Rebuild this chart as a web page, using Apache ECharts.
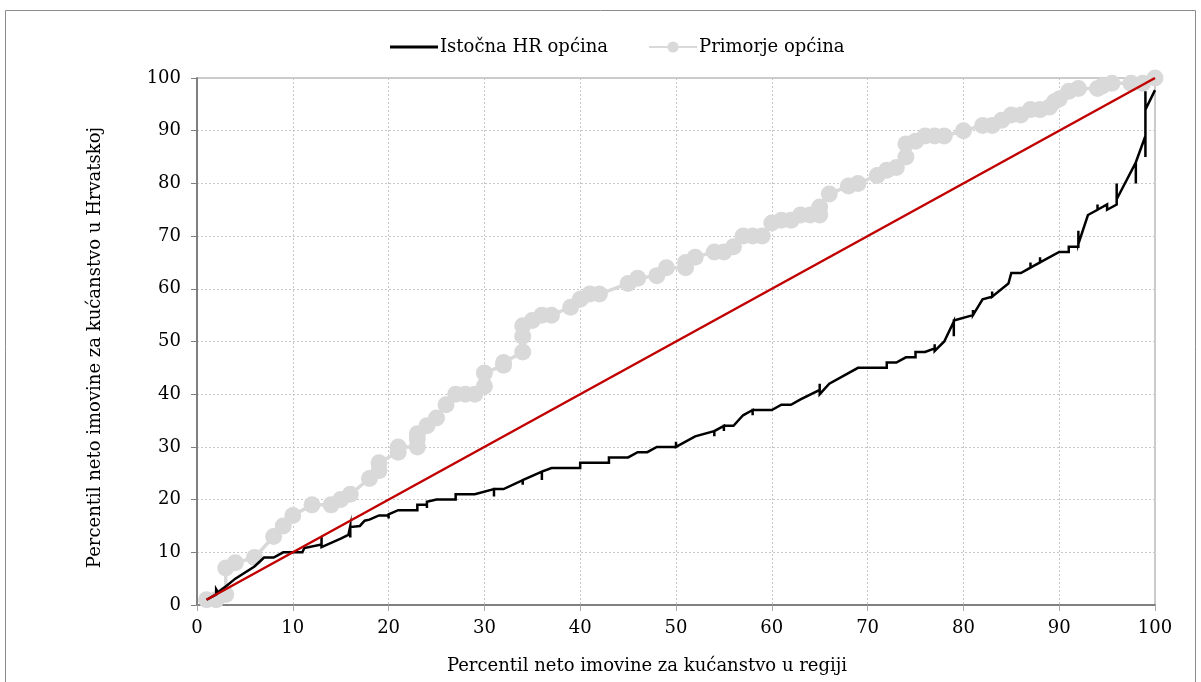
<!DOCTYPE html>
<html>
<head>
<meta charset="utf-8">
<script src="https://cdn.jsdelivr.net/npm/echarts@6/dist/echarts.min.js"></script>
<style>
  html, body { margin: 0; padding: 0; background: #fff; }
  #chart { width: 1201px; height: 682px; }
</style>
</head>
<body>
<div id="chart"></div>
<script>
// Primorje općina: [percentil u regiji, percentil u Hrvatskoj]
const primorje = [
  [1, 1], [2, 1], [3, 2], [3, 7], [4, 8], [6, 9], [8, 13], [9, 15], [10, 17], [12, 19],
  [14, 19], [15, 20], [16, 21], [18, 24], [19, 25.5], [19, 27], [21, 29], [21, 30], [23, 30], [23, 31.5],
  [23, 32.5], [24, 34], [25, 35.5], [26, 38], [27, 40], [28, 40], [29, 40], [30, 41.5], [30, 44], [32, 45.5],
  [32, 46], [34, 48], [34, 51], [34, 53], [35, 54], [36, 55], [37, 55], [39, 56.5], [40, 58], [41, 59],
  [42, 59], [45, 61], [46, 62], [48, 62.5], [49, 64], [51, 64], [51, 65], [52, 66], [54, 67], [55, 67],
  [56, 68], [57, 70], [58, 70], [59, 70], [60, 72.5], [61, 73], [62, 73], [63, 74], [64, 74], [65, 74],
  [65, 75.5], [66, 78], [68, 79.5], [69, 80], [71, 81.5], [72, 82.5], [73, 83], [74, 85], [74, 87.5], [75, 88],
  [76, 89], [77, 89], [78, 89], [80, 90], [82, 91], [83, 91], [84, 92], [85, 93], [86, 93], [87, 94],
  [88, 94], [89, 94.5], [89.5, 95.5], [90, 96], [91, 97.5], [92, 98], [94, 98], [94.5, 98.5], [95.5, 99], [97.5, 99],
  [98.7, 99], [100, 100]
]

// Istočna HR općina
const istocna = [
  [1, 1], [2, 2], [2, 3], [2.2, 2.4], [3, 3.5], [4, 5], [6, 7.3], [7, 9], [8, 9], [9, 10],
  [10, 10], [11, 10], [11, 9.8], [11.2, 10.8], [13, 11.5], [13, 13], [13, 11], [14, 11.8], [15, 12.6], [15.8, 13.3],
  [16, 15], [16, 12.8], [16, 14.8], [17, 15], [17.5, 16], [18, 16.2], [19, 17], [20, 17], [20, 16.4], [20, 17.2],
  [21, 18], [23, 18], [23, 19], [24, 19], [24, 18.4], [24, 19.6], [25, 20], [27, 20], [27, 21], [28, 21],
  [29, 21], [31, 22], [31, 20.6], [31, 22], [32, 22], [34, 23.7], [34, 22.8], [34, 23.7], [36, 25.3], [36, 23.7],
  [36, 25.3], [37, 26], [40, 26], [40, 27], [43, 27], [43, 28], [45, 28], [46, 29], [47, 29], [48, 30],
  [49, 30], [50, 30], [50, 31], [50, 30], [52, 32], [54, 33], [54, 32], [54, 33], [55, 34], [55, 33],
  [55, 34], [56, 34], [57, 36], [58, 37], [58, 36], [58, 37], [60, 37], [61, 38], [62, 38], [63, 39],
  [65, 40.8], [65, 42], [65, 40], [66, 42], [69, 45], [72, 45], [72, 46], [73, 46], [74, 47], [75, 47],
  [75, 48], [76, 48], [77, 48.7], [77, 49.5], [77, 48.2], [78, 50], [79, 53.8], [79, 51], [79, 54], [81, 55],
  [81, 56], [81, 55], [82, 58], [83, 58.5], [83, 59.5], [83, 58.5], [84.7, 61], [85, 63], [86, 63], [87, 64],
  [87, 65], [87, 64], [88, 65], [88, 66], [88, 65], [90, 67], [91, 67], [91, 68], [92, 68], [92, 71],
  [92, 68.5], [93, 74], [94, 75], [94, 76], [94, 75], [95, 76], [95, 75], [96, 76], [96, 80], [96, 77],
  [98, 84], [98, 80], [98, 84], [99, 89], [99, 85], [99, 97.5], [99, 94], [100, 97.7]
]

// referentna dijagonala
const diagonal = [[1, 1], [100, 100]]

const seriesNames = ['Istočna HR općina', 'Primorje općina']
const axisMin = 0
const axisMax = 100
const axisStep = 10

const font = 'DejaVu Serif'
const fontSize = 18
const chart = echarts.init(document.getElementById('chart'), null, { renderer: 'canvas' })

chart.setOption({
  animation: false,
  backgroundColor: '#fff',
  textStyle: { fontFamily: font, color: '#000' },
  graphic: [
    {
      type: 'rect',
      shape: { x: 5.5, y: 10.5, width: 1190, height: 700 },
      style: { fill: 'none', stroke: '#8c8c8c', lineWidth: 1 },
      silent: true
    }
  ],
  legend: {
    top: 33,
    left: 385,
    itemGap: 40,
    itemWidth: 48,
    itemHeight: 14,
    symbolKeepAspect: true,
    data: [
      { name: seriesNames[0], icon: 'path://M0,0 L48,0 L48,3 L0,3 Z' },
      { name: seriesNames[1] }
    ],
    textStyle: { fontFamily: font, fontSize: fontSize, color: '#000', padding: [0, 0, 0, -3] }
  },
  grid: {
    left: 197,
    right: 46,
    top: 78,
    bottom: 77,
    show: true,
    borderColor: '#999',
    borderWidth: 1
  },
  xAxis: {
    type: 'value',
    min: axisMin,
    max: axisMax,
    interval: axisStep,
    name: 'Percentil neto imovine za kućanstvo u regiji',
    nameLocation: 'middle',
    nameGap: 52,
    nameTextStyle: { fontFamily: font, fontSize: fontSize, color: '#000', padding: [0, 58, 0, 0] },
    axisLine: { onZero: false, lineStyle: { color: '#808080', width: 2 } },
    axisTick: { show: true, length: 6, lineStyle: { color: '#aaa' } },
    axisLabel: { fontFamily: font, fontSize: fontSize, color: '#000', margin: 14 },
    splitLine: { show: true, lineStyle: { color: '#c8c8c8', type: [2, 2], width: 1 } }
  },
  yAxis: {
    type: 'value',
    min: axisMin,
    max: axisMax,
    interval: axisStep,
    name: 'Percentil neto imovine za kućanstvo u Hrvatskoj',
    nameLocation: 'middle',
    nameGap: 93,
    nameRotate: 90,
    nameTextStyle: { fontFamily: font, fontSize: fontSize, color: '#000', padding: [0, 12, 0, 0] },
    axisLine: { onZero: false, lineStyle: { color: '#808080', width: 2 } },
    axisTick: { show: true, length: 6, lineStyle: { color: '#808080' } },
    axisLabel: { fontFamily: font, fontSize: fontSize, color: '#000', margin: 16 },
    splitLine: { show: true, lineStyle: { color: '#c8c8c8', type: [2, 2], width: 1 } }
  },
  series: [
    {
      name: 'Primorje općina',
      type: 'line',
      data: primorje,
      symbol: 'circle',
      symbolSize: 17,
      color: '#d9d9d9',
      itemStyle: { color: '#d9d9d9' },
      lineStyle: { color: '#d9d9d9', width: 3.5 },
      z: 2
    },
    {
      name: 'Istočna HR općina',
      type: 'line',
      data: istocna,
      symbol: 'none',
      color: '#000',
      lineStyle: { color: '#000', width: 2.5, join: 'miter' },
      z: 3
    },
    {
      name: 'dijagonala',
      type: 'line',
      data: diagonal,
      symbol: 'none',
      lineStyle: { color: '#c00000', width: 2.5 },
      z: 4
    }
  ]
})
</script>
</body>
</html>
